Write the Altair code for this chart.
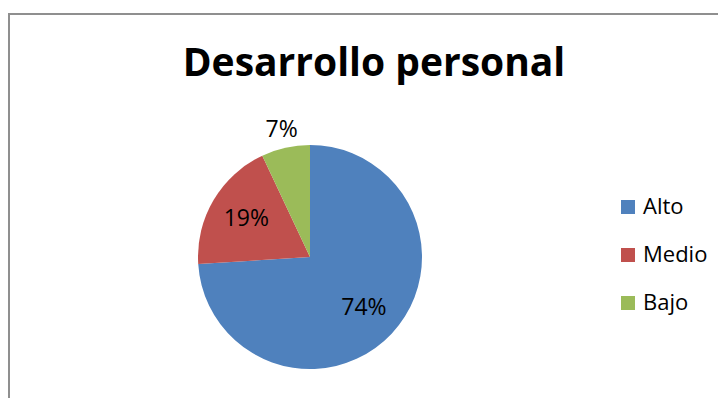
import altair as alt
import pandas as pd

categories = ["Alto", "Medio", "Bajo"]
values = [74, 19, 7]
colors = ["#4F81BD", "#C0504D", "#9BBB59"]
title_text = "Desarrollo personal"

df = pd.DataFrame({"categoria": categories, "valor": values, "orden": list(range(len(categories)))})

W, H = 710, 390
CX, CY = 302, 249
R = 112
FONT = "Open Sans"

base = alt.Chart(df).transform_calculate(
    etq_in="datum.categoria != 'Bajo' ? datum.valor + '%' : ''",
    etq_out="datum.categoria == 'Bajo' ? datum.valor + '%' : ''",
).encode(
    theta=alt.Theta("valor:Q", stack=True),
    order=alt.Order("orden:Q"),
)

pie = base.mark_arc(radius=R).encode(
    x=alt.value(CX),
    y=alt.value(CY),
    color=alt.Color(
        "categoria:N",
        sort=categories,
        scale=alt.Scale(domain=categories, range=colors),
        legend=alt.Legend(
            title=None,
            orient="none",
            legendX=609,
            legendY=188,
            symbolType="square",
            symbolSize=196,
            symbolStrokeWidth=0,
            labelFont=FONT,
            labelFontSize=22,
            labelColor="black",
            labelOffset=4,
            rowPadding=26,
            padding=0,
        ),
    ),
)

txt_in = base.mark_text(radius=74, font=FONT, fontSize=23, color="black", align="center", baseline="middle").encode(
    x=alt.value(CX), y=alt.value(CY), detail="categoria:N", text="etq_in:N"
)
txt_out = base.mark_text(radius=130, font=FONT, fontSize=23, color="black", align="center", baseline="middle").encode(
    x=alt.value(CX), y=alt.value(CY), detail="categoria:N", text="etq_out:N"
)

border_df = pd.DataFrame({"b": [0]})
left_rule = alt.Chart(border_df).mark_rule(color="#8f8f8f", strokeWidth=2).encode(
    x=alt.value(1), y=alt.value(5), y2=alt.value(H)
)
top_rule = alt.Chart(border_df).mark_rule(color="#8f8f8f", strokeWidth=2).encode(
    x=alt.value(0), x2=alt.value(W), y=alt.value(6)
)

chart = alt.layer(left_rule, top_rule, pie, txt_in, txt_out).properties(
    width=W,
    height=H,
    autosize=alt.AutoSizeParams(type="none"),
    padding=0,
    title=alt.Title(
        title_text,
        font=FONT,
        fontSize=39,
        fontWeight="bold",
        color="black",
        anchor="middle",
        frame="group",
        baseline="alphabetic",
        offset=0,
        dx=11,
        dy=107,
    ),
).configure_view(stroke="transparent")

chart.save("out.html", embed_options={"renderer": "svg", "actions": False})
